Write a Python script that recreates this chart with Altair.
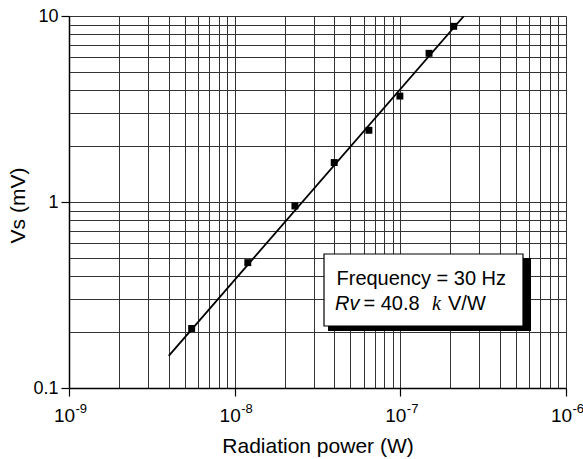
import altair as alt
import pandas as pd

# measured points
power_w = [5.5e-9, 1.2e-8, 2.31e-8, 3.99e-8, 6.46e-8, 9.94e-8, 1.49e-7, 2.10e-7]
vs_mv = [0.209, 0.472, 0.952, 1.63, 2.43, 3.71, 6.30, 8.80]

# fitted line endpoints
fit_power = [4.0e-9, 2.42e-7]
fit_vs = [0.149, 10.0]

x_grid = [m * 10.0 ** e for e in (-9, -8, -7) for m in range(1, 10)] + [1e-6]
y_grid = [m * 10.0 ** e for e in (-1, 0) for m in range(1, 10)] + [10.0]

x_decades = [1e-9, 1e-8, 1e-7, 1e-6]
x_base_labels = ["10", "10", "10", "10"]
x_exponents = ["-9", "-8", "-7", "-6"]

legend_line1 = "Frequency = 30 Hz"
legend_rv = "Rv"
legend_val = "= 40.8"
legend_k = "k"
legend_unit = "V/W"

pts = pd.DataFrame({"p": power_w, "v": vs_mv})
fit = pd.DataFrame({"p": fit_power, "v": fit_vs})
xlab = pd.DataFrame({"p": x_decades, "b": x_base_labels, "e": x_exponents})

W, H = 497, 372
FONT = "Liberation Sans"
GRID = "#333333"

decade = "abs(log(datum.value)/LN10 - round(log(datum.value)/LN10)) < 1e-6"

xscale = alt.Scale(type="log", domain=[1e-9, 1e-6], nice=False)
yscale = alt.Scale(type="log", domain=[0.1, 10], nice=False)

xaxis = alt.Axis(
    values=x_grid, grid=True, gridColor=GRID, gridWidth=1,
    title="Radiation power (W)", titleFont=FONT, titleFontSize=21, titleFontWeight="normal",
    titleColor="black", titleY=64, titleBaseline="alphabetic",
    labels=False,
    tickColor="black", tickSize=8, tickWidth=1.2,
    tickOpacity={"condition": {"test": decade, "value": 1}, "value": 0},
    domainColor="black", domainWidth=1.5,
)
yaxis = alt.Axis(
    values=y_grid, grid=True, gridColor=GRID, gridWidth=1,
    title="Vs (mV)", titleFont=FONT, titleFontSize=21, titleFontWeight="normal",
    titleColor="black", titleX=-51, titleY=H / 2 + 3, titleBaseline="middle", titleAlign="center",
    labelFont=FONT, labelFontSize=18, labelColor="black", labelPadding=3, labelOverlap=False,
    labelExpr=f"({decade}) ? format(datum.value, '~g') : ''",
    tickColor="black", tickSize=8, tickWidth=1.2,
    tickOpacity={"condition": {"test": decade, "value": 1}, "value": 0},
    domainColor="black", domainWidth=1.5,
)

points = alt.Chart(pts).mark_square(size=48, color="black", opacity=1).encode(
    x=alt.X("p:Q", scale=xscale, axis=xaxis),
    y=alt.Y("v:Q", scale=yscale, axis=yaxis),
)

line = alt.Chart(fit).mark_line(color="black", strokeWidth=1.8, clip=True).encode(
    x=alt.X("p:Q", scale=xscale),
    y=alt.Y("v:Q", scale=yscale),
)

xlab_base = alt.Chart(xlab).mark_text(
    font=FONT, fontSize=19, color="black", align="center", baseline="alphabetic", dx=-4.5
).encode(x=alt.X("p:Q", scale=xscale), y=alt.value(H + 34), text="b:N")
xlab_exp = alt.Chart(xlab).mark_text(
    font=FONT, fontSize=13, color="black", align="left", baseline="alphabetic", dx=6.5
).encode(x=alt.X("p:Q", scale=xscale), y=alt.value(H + 25), text="e:N")

one = pd.DataFrame({"a": [0]})
shadow = alt.Chart(one).mark_rect(color="black").encode(
    x=alt.value(259), x2=alt.value(462), y=alt.value(242), y2=alt.value(315)
)
box = alt.Chart(one).mark_rect(fill="white", stroke="black", strokeWidth=1.2).encode(
    x=alt.value(255), x2=alt.value(454), y=alt.value(238), y2=alt.value(310)
)

def txt(s, x, y, style="normal", font=FONT):
    return alt.Chart(pd.DataFrame({"t": [s]})).mark_text(
        font=font, fontSize=20, fontStyle=style, color="black",
        align="left", baseline="alphabetic",
    ).encode(x=alt.value(x), y=alt.value(y), text="t:N")

texts = [
    txt(legend_line1, 267.5, 269),
    txt(legend_rv, 266, 293.5, "italic"),
    txt(legend_val, 294.5, 293.5),
    txt(legend_k, 363, 293.5, "italic", "Liberation Serif"),
    txt(legend_unit, 379, 293.5),
]

chart = alt.layer(line, points, xlab_base, xlab_exp, shadow, box, *texts).properties(
    width=W, height=H,
    autosize=alt.AutoSizeParams(type="none"),
    padding={"left": 69, "top": 16, "right": 17, "bottom": 71},
).configure_view(stroke="black", strokeWidth=1.5).configure(background="white")

chart.save("out.html", embed_options={"renderer": "svg", "actions": False})
